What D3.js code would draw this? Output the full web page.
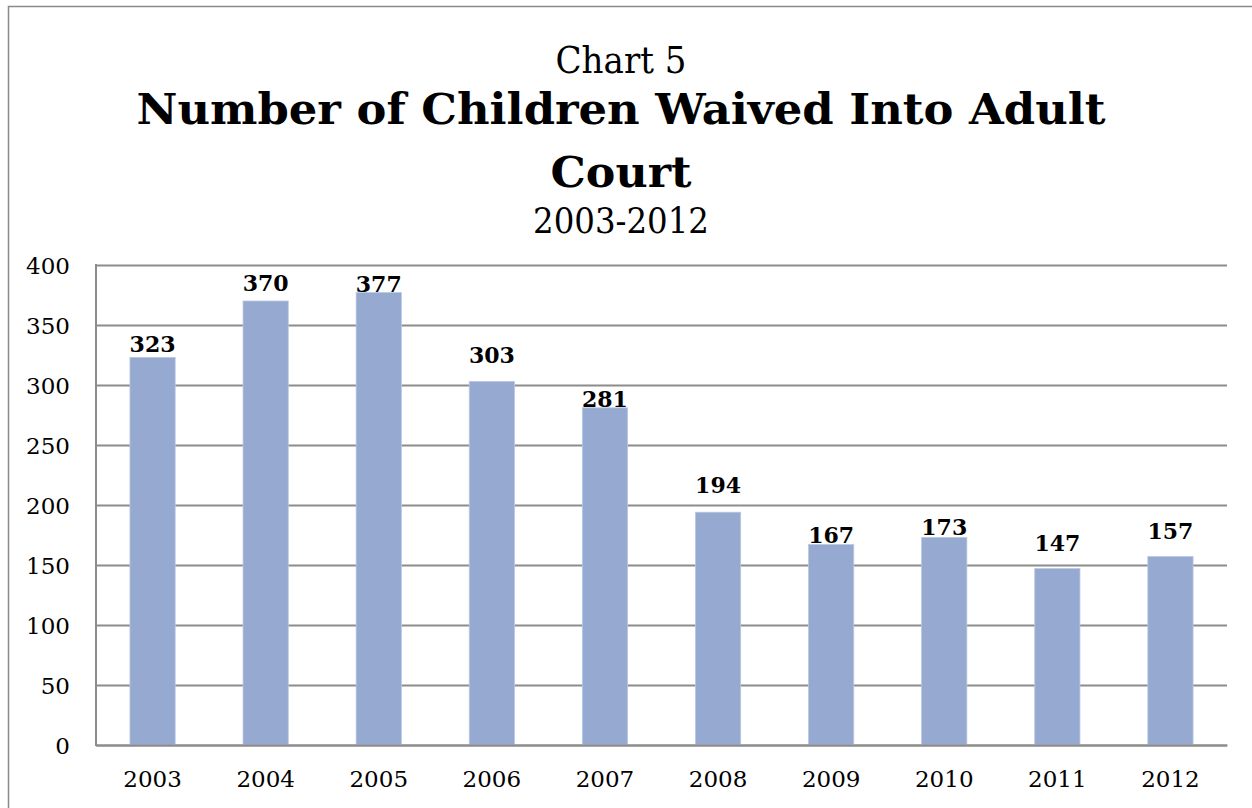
<!DOCTYPE html>
<html>
<head>
<meta charset="utf-8">
<script src="https://cdn.jsdelivr.net/npm/d3@7/dist/d3.min.js"></script>
<style>
  html, body { margin: 0; padding: 0; background: #fff; }
  svg { display: block; }
  text { font-family: "DejaVu Serif", "Liberation Serif", serif; fill: #000; }
</style>
</head>
<body>
<svg id="chart" width="1252" height="808"></svg>
<script>
// ---- data ----
const years = ["2003", "2004", "2005", "2006", "2007", "2008", "2009", "2010", "2011", "2012"];
const waived = [323, 370, 377, 303, 281, 194, 167, 173, 147, 157];
const yTicks = [0, 50, 100, 150, 200, 250, 300, 350, 400];
const titleLines = ["Number of Children Waived Into Adult", "Court"];
const supTitle = "Chart 5";
const subTitle = "2003-2012";

// ---- layout (not data) ----
const labelLift = [5, 10, 1, 18, 1, 19, 2, 2, 18, 18]; // px gap between label baseline and bar top, as placed in the original

const svg = d3.select("#chart");
const plot = { left: 96, right: 1227, top: 265, bottom: 745 };
const gridColor = "#8c8c8c";
const barColor = "#95a9d1";
const cx = 621;

// outer frame (right and bottom sides lie outside the picture)
svg.append("rect")
  .attr("x", 8.5).attr("y", 6.5)
  .attr("width", 1300).attr("height", 900)
  .attr("fill", "none").attr("stroke", "#8a8a8a").attr("stroke-width", 1.5);

// titles
svg.append("text").attr("x", cx).attr("y", 73)
  .attr("text-anchor", "middle").attr("font-size", 38)
  .attr("textLength", 131).attr("lengthAdjust", "spacingAndGlyphs")
  .text(supTitle);

const titleWidths = [969, 141];
const titleBase = [124, 187];
titleLines.forEach((t, i) => {
  svg.append("text").attr("x", cx).attr("y", titleBase[i])
    .attr("text-anchor", "middle").attr("font-size", 42).attr("font-weight", "bold")
    .attr("textLength", titleWidths[i]).attr("lengthAdjust", "spacingAndGlyphs")
    .text(t);
});

svg.append("text").attr("x", cx).attr("y", 233)
  .attr("text-anchor", "middle").attr("font-size", 35)
  .attr("textLength", 176).attr("lengthAdjust", "spacingAndGlyphs")
  .text(subTitle);

// scales
const x = d3.scaleBand().domain(years).range([plot.left, plot.right]).padding(0);
const y = d3.scaleLinear().domain([0, 400]).range([plot.bottom, plot.top]);
const barW = x.bandwidth() * 0.4;

// gridlines + y tick labels
const yAxis = d3.axisLeft(y).tickValues(yTicks).tickSize(-(plot.right - plot.left)).tickPadding(26).tickFormat(d3.format("d"));
const gy = svg.append("g").attr("transform", `translate(${plot.left},0)`).call(yAxis);
gy.select(".domain").remove();
gy.selectAll(".tick line").attr("stroke", gridColor).attr("stroke-width", 2);
gy.selectAll(".tick text")
  .attr("font-family", "DejaVu Serif, serif").attr("font-size", 23).attr("fill", "#000")
  .attr("dy", "0.36em");

// bars
svg.append("g").selectAll("rect").data(years).join("rect")
  .attr("x", (d) => x(d) + (x.bandwidth() - barW) / 2)
  .attr("y", (d, i) => y(waived[i]))
  .attr("width", barW)
  .attr("height", (d, i) => y(0) - y(waived[i]))
  .attr("fill", barColor)
  .attr("stroke", "#b9c7e2").attr("stroke-width", 0.8);

// y axis line
svg.append("line").attr("x1", plot.left).attr("x2", plot.left)
  .attr("y1", plot.top - 1).attr("y2", plot.bottom + 1)
  .attr("stroke", gridColor).attr("stroke-width", 2);

// x axis
const xAxis = d3.axisBottom(x).tickSize(0).tickPadding(26);
const gx = svg.append("g").attr("transform", `translate(0,${plot.bottom})`).call(xAxis);
gx.select(".domain").attr("stroke", gridColor).attr("stroke-width", 2);
gx.selectAll(".tick text")
  .attr("font-family", "DejaVu Serif, serif").attr("font-size", 23).attr("fill", "#000");

// value labels
svg.append("g").selectAll("text").data(years).join("text")
  .attr("x", (d) => x(d) + x.bandwidth() / 2)
  .attr("y", (d, i) => y(waived[i]) - labelLift[i])
  .attr("text-anchor", "middle")
  .attr("font-size", 22).attr("font-weight", "bold")
  .text((d, i) => waived[i]);
</script>
</body>
</html>
